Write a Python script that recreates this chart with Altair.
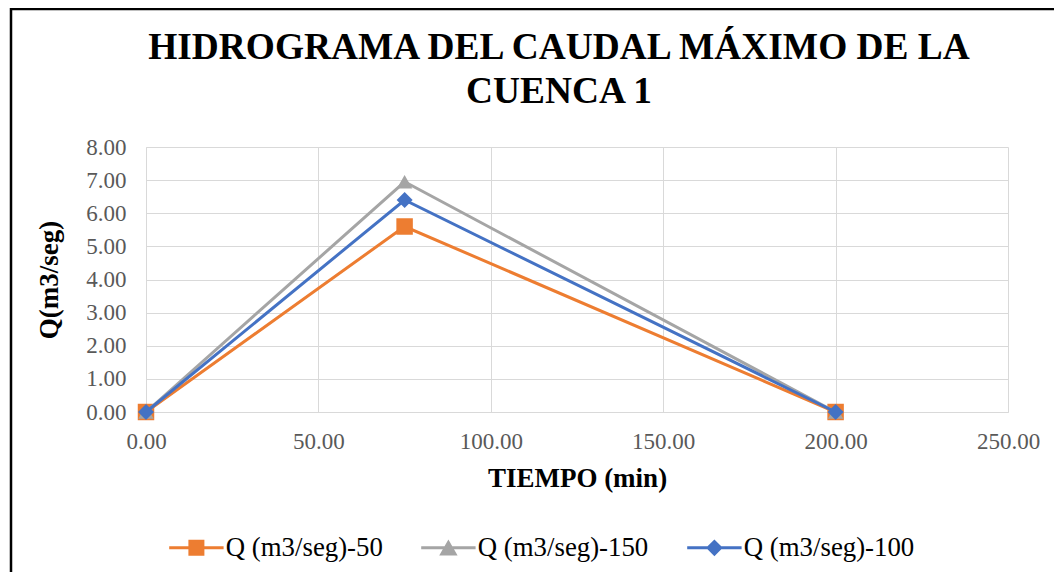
import altair as alt
import pandas as pd

# ---- data ----
tiempo = [0.0, 75.0, 200.0]
q50 = [0.0, 5.60, 0.0]
q150 = [0.0, 6.95, 0.0]
q100 = [0.0, 6.40, 0.0]
series = ["Q (m3/seg)-50", "Q (m3/seg)-150", "Q (m3/seg)-100"]
x_ticks = [0, 50, 100, 150, 200, 250]
y_ticks = [0, 1, 2, 3, 4, 5, 6, 7, 8]
title_lines = ["HIDROGRAMA DEL CAUDAL MÁXIMO DE LA", "CUENCA 1"]

# ---- styles ----
colors = ["#ED7D31", "#A5A5A5", "#4472C4"]
marker_shapes = ["square", "triangle-up", "diamond"]
marker_sizes = [272, 240, 256]
legend_paths = [
    "M-3.4,-0.19H3.4V0.19H-3.4Z M-1,-1H1V1H-1Z",
    "M-3.4,-0.19H3.4V0.19H-3.4Z M0,-1.05L1.15,0.95L-1.15,0.95Z",
    "M-3.4,-0.19H3.4V0.19H-3.4Z M0,-1.05L1.05,0L0,1.05L-1.05,0Z",
]
FONT = "Liberation Serif"

rows = []
for s, vals in zip(series, [q50, q150, q100]):
    for t, v in zip(tiempo, vals):
        rows.append({"tiempo": t, "q": v, "serie": s})
df = pd.DataFrame(rows)

x = alt.X(
    "tiempo:Q",
    scale=alt.Scale(domain=[0, 250], nice=False),
    axis=alt.Axis(values=x_ticks, format=".2f", title="TIEMPO (min)",
                  labelPadding=18, titlePadding=12),
)
y = alt.Y(
    "q:Q",
    scale=alt.Scale(domain=[0, 8], nice=False),
    axis=alt.Axis(values=y_ticks, format=".2f", title="Q(m3/seg)",
                  labelPadding=20, titlePadding=22),
)

one = pd.DataFrame({"a": [0]})
border = alt.Chart(one).mark_rect(
    fill="transparent", stroke="black", strokeWidth=2.5
).encode(
    x=alt.value(-135), x2=alt.value(1100), y=alt.value(-138), y2=alt.value(600)
)
title = alt.Chart(one).mark_text(
    font=FONT, fontSize=37.4, fontWeight="bold", color="black",
    align="center", baseline="alphabetic", lineHeight=44,
).encode(
    x=alt.value(413), y=alt.value(-88), text=alt.value(title_lines)
)

layers = [border, title]
base = alt.Chart(df)
for i, s in enumerate(series):
    sub = base.transform_filter(alt.datum.serie == s)
    layers.append(sub.mark_line(strokeWidth=3, color=colors[i]).encode(x=x, y=y))
    layers.append(
        sub.mark_point(shape=marker_shapes[i], size=marker_sizes[i], filled=True,
                       opacity=1, color=colors[i])
        .encode(x=x, y=y)
    )

leg = dict(
    orient="none", legendX=37, legendY=387, direction="horizontal", columns=3,
    title=None, labelFont=FONT, labelFontSize=26.8, labelColor="black",
    labelOffset=16, columnPadding=38, symbolSize=256, symbolStrokeWidth=0,
    symbolOpacity=1, padding=0, labelLimit=0,
)
legend_layer = base.mark_point(filled=True, opacity=0).encode(
    x=x, y=y,
    color=alt.Color("serie:N", scale=alt.Scale(domain=series, range=colors), legend=alt.Legend(**leg)),
    shape=alt.Shape("serie:N", scale=alt.Scale(domain=series, range=legend_paths), legend=alt.Legend(**leg)),
)
layers.append(legend_layer)

chart = alt.layer(*layers).properties(
    width=862,
    height=265,
    padding={"left": 138, "top": 139, "right": 46, "bottom": 160},
    autosize=alt.AutoSizeParams(type="none"),
    background="white",
).configure_view(stroke=None).configure_axis(
    labelFont=FONT, labelFontSize=23, labelColor="#595959", labelFlush=False,
    titleFont=FONT, titleFontSize=27, titleFontWeight="bold", titleColor="black",
    gridColor="#D9D9D9", gridWidth=1, domainColor="#D9D9D9", domainWidth=1, ticks=False,
)

chart.save("out.html", embed_options={"renderer": "svg", "actions": False})
